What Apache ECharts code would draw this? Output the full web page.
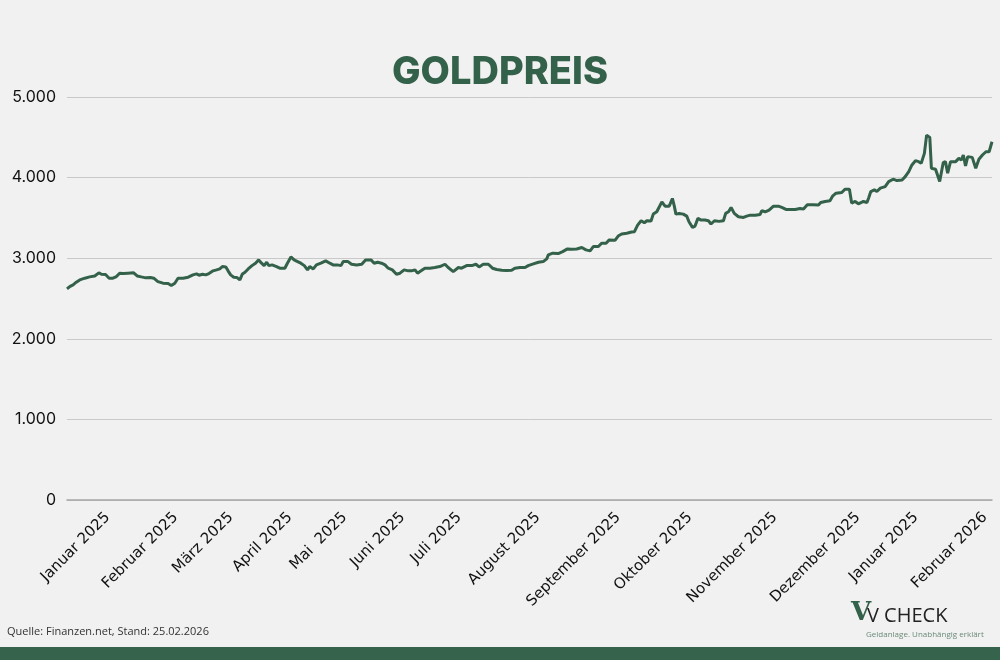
<!DOCTYPE html>
<html>
<head>
<meta charset="utf-8">
<script src="https://cdn.jsdelivr.net/npm/echarts@6/dist/echarts.min.js"></script>
<style>
html,body{margin:0;padding:0;background:#f1f1f1;}
#chart{width:1000px;height:660px;}
</style>
</head>
<body>
<div id="chart"></div>
<script>
// trading-day index (x) and gold price in EUR (y)
const days = [
0,0.85,1.9,2.9,4.0,5.6,7.1,8.7,10.0,10.8,12.1,13.2,14.4,15.5,16.5,17.6,19.1,20.9,22.0,23.3,24.7,26.2,27.2,28.5,30.1,31.7,32.7,33.8,34.8,36.4,38.0,39.5,40.6,41.4,42.5,43.5,44.5,45.8,46.9,47.9,48.7,49.8,50.5,51.3,52.3,53.3,54.2,55.0,55.8,
56.8,58.0,59.1,60.1,61.0,61.8,62.6,63.3,64.3,65.7,66.7,68.3,69.1,70.2,71.2,72.3,73.3,74.4,75.4,76.1,77.2,78.2,79.6,81.1,82.4,83.4,84.8,85.9,86.6,88.1,89.2,90.8,92.4,93.6,95.3,96.3,97.4,98.6,99.7,100.7,102.0,103.3,104.4,105.7,107.0,108.0,109.1,109.9,111.0,112.2,113.8,
115.3,116.9,118.5,119.5,121.1,122.7,123.7,125.3,126.9,128.2,129.2,130.5,132.1,133.4,134.7,136.3,137.8,139.4,140.4,142.0,143.6,144.6,146.2,147.8,149.3,150.4,150.9,152.3,154.0,155.4,156.9,158.2,159.8,161.4,162.7,164.0,165.0,166.6,167.6,169.0,170.0,171.8,
172.8,173.9,175.5,177.0,177.9,178.9,180.0,181.0,181.8,183.1,183.8,184.9,186.5,187.5,188.8,189.8,190.4,190.9,191.9,193.2,194.3,195.0,196.1,196.9,197.8,198.8,200.0,201.1,201.9,203.0,204.4,205.8,206.5,207.4,208.2,209.2,210.5,212.1,213.1,214.2,215.8,217.3,217.8,218.9,220.1,221.5,223.0,224.1,225.4,226.7,228.3,229.8,
230.9,232.1,234.0,235.6,236.3,237.7,239.2,240.1,241.1,242.9,243.9,245.3,246.0,247.1,248.1,249.7,250.8,251.3,252.0,253.1,253.9,255.0,256.5,257.6,259.0,260.2,261.8,262.8,263.9,264.9,266.0,267.0,267.8,268.8,269.5,270.5,271.0,272.3,272.8,273.6,274.7,275.4,276.1,277.0,278.6,279.6,280.4,281.0,281.7,282.4,283.8,284.9,285.9,287.0,288.1,289.1,290.0
];
const prices = [
2619,2648,2669,2702,2731,2752,2768,2780,2818,2801,2797,2752,2752,2772,2814,2810,2814,2818,2780,2768,2756,2760,2752,2710,2690,2685,2660,2690,2752,2752,2764,2793,2805,2789,2801,2793,2810,2843,2855,2868,2896,2892,2843,2793,2764,2760,2731,2805,2826,
2867,2908,2938,2979,2938,2908,2950,2908,2917,2896,2876,2876,2938,3016,2979,2958,2938,2908,2855,2896,2867,2917,2938,2967,2938,2917,2917,2908,2958,2958,2925,2917,2925,2979,2979,2938,2950,2938,2917,2876,2855,2801,2814,2855,2843,2843,2855,2814,2843,2876,2876,
2884,2896,2925,2884,2834,2884,2876,2908,2908,2925,2892,2925,2925,2876,2860,2851,2847,2851,2876,2884,2884,2908,2930,2950,2958,2992,3041,3062,3058,3082,3115,3111,3115,3132,3103,3091,3144,3144,3186,3186,3227,3222,
3275,3300,3309,3325,3329,3411,3465,3440,3465,3461,3547,3576,3699,3646,3646,3741,3646,3547,3555,3547,3522,3452,3383,3399,3494,3473,3473,3465,3424,3465,3457,3465,3556,3576,3630,3556,3514,3506,3522,3534,3534,3543,3588,3576,3597,3646,3646,3630,3605,3605,3605,3617,
3610,3663,3663,3659,3691,3704,3712,3774,3807,3815,3856,3856,3684,3704,3675,3704,3691,3745,3827,3848,3827,3869,3889,3951,3980,3963,3971,4012,4074,4157,4210,4198,4177,4301,4527,4499,4116,4104,4095,3951,4185,4198,4054,4198,4198,4239,4219,4280,4145,4260,4251,4116,4227,4280,4321,4321,4445
];
// x-axis label positions (trading-day index) and their texts
const tickPos = [12.8,34.1,51.4,69.9,87.1,105.3,123.0,147.7,172.8,195.3,222.0,248.0,266.2,287.8];
const tickLabels = ["Januar 2025","Februar 2025","März 2025","April 2025","Mai  2025","Juni 2025","Juli 2025","August 2025","September 2025","Oktober 2025","November 2025","Dezember 2025","Januar 2025","Februar 2026"];
const yTicks = [0,1000,2000,3000,4000,5000];

const green = '#336149';
const fontAxis = '"DejaVu Sans", Inter, sans-serif';

const chart = echarts.init(document.getElementById('chart'), null, {renderer:'canvas'});
function fmtDE(v){ return String(v).replace(/\B(?=(\d{3})+(?!\d))/g, '.'); }

chart.setOption({
  backgroundColor:'#f1f1f1',
  animation:false,
  title:{
    text:'GOLDPREIS', left:'center', top:49,
    textStyle:{fontFamily:'Inter, sans-serif', fontWeight:800, fontSize:38, color:green}
  },
  grid:{left:67, right:8, top:97, bottom:160},
  xAxis:{
    type:'value', min:0, max:290,
    axisLine:{show:true, lineStyle:{color:'#a6a6a6', width:1.5}},
    axisTick:{show:false},
    splitLine:{show:false},
    axisLabel:{
      customValues: tickPos,
      rotate:45, margin:15,
      fontFamily:fontAxis, fontSize:15, color:'#111',
      formatter:function(v){
        let best=0, bd=1e9;
        tickPos.forEach((p,i)=>{const d=Math.abs(p-v); if(d<bd){bd=d;best=i;}});
        return tickLabels[best];
      }
    }
  },
  yAxis:{
    type:'value', min:yTicks[0], max:yTicks[yTicks.length-1], interval:1000,
    axisLine:{show:false}, axisTick:{show:false},
    splitLine:{lineStyle:{color:'#c9c9c9', width:1}},
    axisLabel:{fontFamily:'Inter, sans-serif', fontSize:16, color:'#111', margin:11, formatter:v=>fmtDE(v)}
  },
  series:[{
    type:'line', data:days.map((d,i)=>[d,prices[i]]),
    showSymbol:false, symbol:'none',
    lineStyle:{color:green, width:3},
    z:3
  }],
  graphic:[
    {type:'text', left:7, top:626, style:{text:'Quelle: Finanzen.net, Stand: 25.02.2026', fontFamily:'"Open Sans", sans-serif', fontSize:11, fill:'#333'}},
    {type:'rect', left:0, top:647, shape:{width:1000, height:13}, style:{fill:'#35634b'}},
    {type:'text', left:851, top:600, style:{text:'V', fontFamily:'"DejaVu Serif", serif', fontWeight:'bold', fontSize:26, fill:green}},
    {type:'text', left:867, top:606, style:{text:'V CHECK', fontFamily:'"Open Sans", sans-serif', fontSize:20, fill:'#222'}},
    {type:'text', left:866, top:631, style:{text:'Geldanlage. Unabhängig erklärt', fontFamily:'"Open Sans", sans-serif', fontSize:8, fill:'#6a8a78'}}
  ]
});
</script>
</body>
</html>
